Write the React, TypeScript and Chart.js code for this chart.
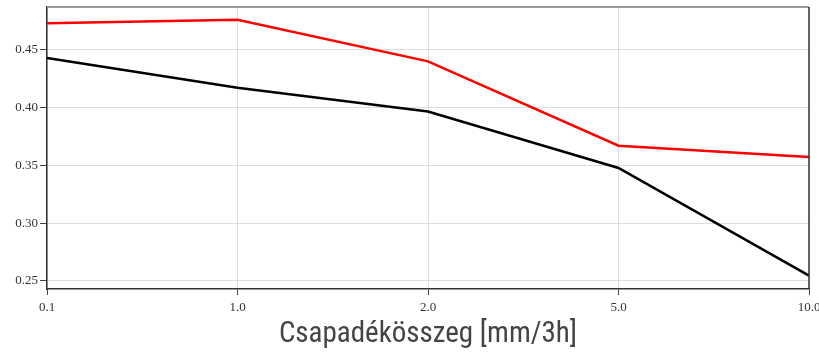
import React, { useEffect, useRef } from "react";
import { Chart, registerables } from "chart.js";

Chart.register(...registerables);

const categories = ["0.1", "1.0", "2.0", "5.0", "10.0"];
const redSeries = [0.473, 0.476, 0.44, 0.367, 0.3573];
const blackSeries = [0.4429, 0.4172, 0.3966, 0.3477, 0.2545];
const yTicks = [0.25, 0.3, 0.35, 0.4, 0.45];
const xTitle = "Csapadékösszeg [mm/3h]";

const borderPlugin = {
  id: "frameBorders",
  afterDraw(chart: any) {
    const { ctx, chartArea } = chart;
    ctx.save();
    ctx.lineWidth = 2;
    ctx.strokeStyle = "#999999";
    ctx.beginPath();
    ctx.moveTo(chartArea.left, chartArea.top);
    ctx.lineTo(chartArea.right, chartArea.top);
    ctx.stroke();
    ctx.strokeStyle = "#333333";
    ctx.lineWidth = 1.5;
    ctx.beginPath();
    ctx.moveTo(chartArea.right, chartArea.top);
    ctx.lineTo(chartArea.right, chartArea.bottom);
    ctx.stroke();
    ctx.restore();
  },
};

export default function App() {
  const ref = useRef<HTMLCanvasElement | null>(null);
  useEffect(() => {
    if (!ref.current) return;
    const chart = new Chart(ref.current, {
      type: "line",
      data: {
        labels: categories,
        datasets: [
          {
            data: redSeries,
            borderColor: "#ff0000",
            borderWidth: 2.5,
            pointRadius: 0,
            tension: 0,
            fill: false,
          },
          {
            data: blackSeries,
            borderColor: "#000000",
            borderWidth: 2.5,
            pointRadius: 0,
            tension: 0,
            fill: false,
          },
        ],
      },
      options: {
        animation: false,
        responsive: false,
        maintainAspectRatio: false,
        layout: { padding: { top: 7, right: 10, left: 0, bottom: 0 } },
        plugins: { legend: { display: false }, tooltip: { enabled: false } },
        scales: {
          x: {
            type: "category",
            offset: false,
            grid: {
              color: "#dddddd",
              lineWidth: 1,
              tickLength: 6,
              tickColor: "#444444",
            },
            border: { color: "#333333", width: 1.5 },
            ticks: {
              color: "#333333",
              font: { family: "'Liberation Serif', serif", size: 13 },
              padding: 5,
              maxRotation: 0,
              autoSkip: false,
            },
            title: {
              display: true,
              text: xTitle,
              color: "#444444",
              font: { family: "'Liberation Sans Narrow', 'Roboto Condensed', 'Liberation Sans', sans-serif", size: 29 },
              padding: { top: 0, bottom: 0 },
            },
            afterFit(scale: any) {
              scale.height = 63;
              scale.paddingLeft = 0;
              scale.paddingRight = 0;
            },
          },
          y: {
            min: 0.243,
            max: 0.487,
            grid: {
              color: "#dddddd",
              lineWidth: 1,
              tickLength: 7,
              tickColor: "#444444",
            },
            border: { color: "#333333", width: 1.5 },
            ticks: {
              color: "#333333",
              font: { family: "'Liberation Serif', serif", size: 13 },
              padding: 2,
              callback: (v: any) => Number(v).toFixed(2),
            },
            afterBuildTicks(scale: any) {
              scale.ticks = yTicks.map((v) => ({ value: v }));
            },
            afterFit(scale: any) {
              scale.width = 47;
              scale.paddingTop = 0;
              scale.paddingBottom = 0;
            },
          },
        },
      },
      plugins: [borderPlugin],
    });
    return () => chart.destroy();
  }, []);
  return (
    <div style={{ position: "fixed", left: 0, top: 0, width: 819, height: 352, background: "#fff" }}>
      <canvas ref={ref} width={819} height={352} style={{ display: "block" }} />
    </div>
  );
}
